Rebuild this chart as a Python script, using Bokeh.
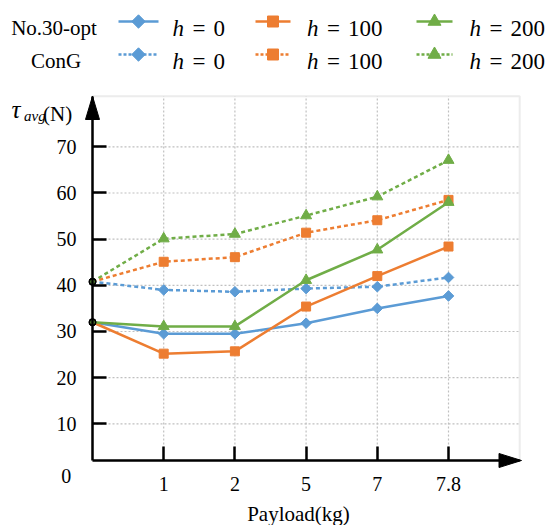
import math
from bokeh.plotting import figure
from bokeh.models import Range1d, FixedTicker, LinearAxis, PolyAnnotation, BoxAnnotation
from bokeh.embed import file_html
from bokeh.resources import INLINE
from bokeh.core.properties import value

# ---------------- data ----------------
payload_labels = ["0", "1", "2", "5", "7", "7.8"]   # first point = start (origin), unlabeled
h_values = ["0", "100", "200"]

opt_h0 = [32.0, 29.5, 29.5, 31.8, 35.0, 37.7]
opt_h100 = [32.0, 25.2, 25.7, 35.4, 42.0, 48.4]
opt_h200 = [32.0, 31.1, 31.1, 41.1, 47.7, 58.0]

cong_h0 = [40.8, 39.0, 38.6, 39.3, 39.7, 41.7]
cong_h100 = [40.8, 45.1, 46.1, 51.4, 54.1, 58.5]
cong_h200 = [40.8, 50.1, 51.1, 55.1, 59.2, 67.1]

y_ticks = [10, 20, 30, 40, 50, 60, 70]
group_names = ["No.30-opt", "ConG"]

# ---------------- styles / layout ----------------
colors = ["#5B9BD5", "#ED7D31", "#70AD47"]
markers = ["square", "square", "triangle"]
angles = [math.pi / 4, 0, 0]
sizes = [7.5, 9, 11]
FONT = "'Liberation Serif'"
GRID = "#c0c0c0"

W, H = 550, 525
ORIGIN_PX, PX_PER_X = 92.0, 71.2        # pixel position of x index 0, pixels per index
ZERO_PY, PX_PER_Y = 469.5, 4.617        # pixel row of value 0, pixels per unit


def dx(px):
    return (px - ORIGIN_PX) / PX_PER_X


def dy(py):
    return (ZERO_PY - py) / PX_PER_Y


x_pos = list(range(len(payload_labels)))
opt_series = [opt_h0, opt_h100, opt_h200]
cong_series = [cong_h0, cong_h100, cong_h200]

XR = 6.0
Y0, Y1 = dy(460.0), dy(95.7)

p = figure(width=W, height=H, x_range=Range1d(dx(0), dx(W)), y_range=Range1d(dy(H), dy(0)),
           output_backend="svg", toolbar_location=None,
           x_axis_location=None, y_axis_location=None, min_border=0)
p.grid.visible = False
p.outline_line_color = None
p.background_fill_color = "white"
p.border_fill_color = "white"

# plot-area box (gray top/right border)
p.add_layout(BoxAnnotation(left=0, right=XR, bottom=Y0, top=Y1, fill_alpha=0,
                           line_color=GRID, line_width=2, level="underlay"))

# grid lines
p.segment(x0=x_pos[1:], y0=Y0, x1=x_pos[1:], y1=Y1, line_color=GRID, line_width=1.2,
          line_dash="2 2")
p.segment(x0=0, y0=y_ticks, x1=XR, y1=y_ticks, line_color=GRID, line_width=1.2,
          line_dash="2 2")

# axes
yax = LinearAxis(fixed_location=0, bounds=(Y0, Y1), ticker=FixedTicker(ticks=y_ticks))
xax = LinearAxis(fixed_location=Y0, bounds=(0, XR), ticker=FixedTicker(ticks=x_pos[1:]))
xax.major_label_overrides = {i: payload_labels[i] for i in x_pos[1:]}
for ax in (xax, yax):
    ax.axis_line_color = "black"
    ax.axis_line_width = 2.5
    ax.major_tick_line_color = "black"
    ax.major_tick_line_width = 2.5
    ax.major_tick_in = 14
    ax.major_tick_out = 0
    ax.minor_tick_line_color = None
    ax.major_label_text_font = FONT
    ax.major_label_text_font_size = "20px"
    ax.major_label_text_color = "black"
xax.major_label_standoff = 16
yax.major_label_standoff = 16
p.add_layout(yax, "left")
p.add_layout(xax, "below")

# dashed (ConG) series
for vals, c, m, a, s in zip(cong_series, colors, markers, angles, sizes):
    p.line(x_pos, vals, line_color=c, line_width=2.5, line_dash="4 3")
    p.scatter(x_pos[1:], vals[1:], marker=m, angle=a, size=s, fill_color=c, line_color=c)
# solid (No.30-opt) series
for vals, c, m, a, s in zip(opt_series, colors, markers, angles, sizes):
    p.line(x_pos, vals, line_color=c, line_width=2.5)
    p.scatter(x_pos[1:], vals[1:], marker=m, angle=a, size=s, fill_color=c, line_color=c)
# start points
for vals, c in zip(cong_series + opt_series, colors + colors):
    p.scatter([x_pos[0]], [vals[0]], marker="circle", size=6, fill_color=c,
              line_color="black", line_width=1.5)

# axis arrow heads
p.add_layout(PolyAnnotation(
    xs=[0, dx(ORIGIN_PX - 7), dx(ORIGIN_PX + 7)], ys=[Y1, dy(119), dy(119)],
    fill_color="black", fill_alpha=1, line_color="black", line_alpha=1))
p.add_layout(PolyAnnotation(
    xs=[dx(521), dx(498.5), dx(498.5)], ys=[Y0, dy(453), dy(467)],
    fill_color="black", fill_alpha=1, line_color="black", line_alpha=1))


def txt(px, py, text, size, style="normal", align="left", baseline="alphabetic"):
    p.text(x=[dx(px)], y=[dy(py)], text=[text], text_font=value(FONT), text_font_size=size,
           text_font_style=style, text_align=align, text_baseline=baseline,
           text_color="black")


# axis titles and origin label
txt(11.0, 109.0, "τ", "25px", "italic")
txt(23.5, 115.0, "avg", "15px", "italic")
txt(42.5, 113.5, "(N)", "21px")
txt(70.7, 475.0, "0", "20px", align="right", baseline="middle")
txt(298.0, 513.0, "Payload(kg)", "21px", align="center")

# legend
row_y = [21, 54]
row_base = [27.5, 61]
row_label_x = [10.7, 55.5]
row_label_align = ["left", "center"]
row_dash = ["solid", "3 2"]
col_line = [(118, 158), (255, 290), (416, 452)]
col_h = [172, 306.5, 469]

for r in range(2):
    txt(row_label_x[r], row_base[r] - 0.3, group_names[r], "21px", align=row_label_align[r])
    for ci in range(3):
        x0, x1 = col_line[ci]
        p.line([dx(x0), dx(x1)], [dy(row_y[r])] * 2, line_color=colors[ci], line_width=2.5,
               line_dash=row_dash[r])
        p.scatter([dx((x0 + x1) / 2)], [dy(row_y[r])], marker=markers[ci], angle=angles[ci],
                  size=sizes[ci] + 2, fill_color=colors[ci], line_color=colors[ci])
        hx = col_h[ci]
        txt(hx, row_base[r], "h", "23px", "italic")
        txt(hx + 20, row_base[r], "=", "23px")
        txt(hx + 41, row_base[r], h_values[ci], "23px")

open("out.html", "w").write(file_html(p, INLINE))
